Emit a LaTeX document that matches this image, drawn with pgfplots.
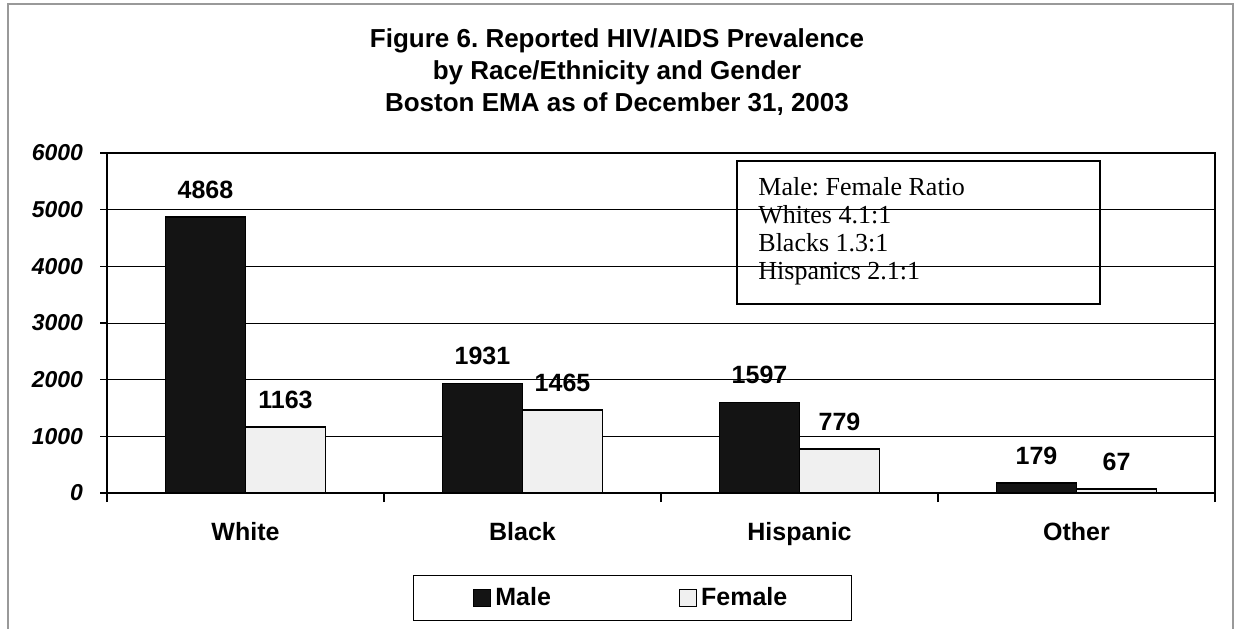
\documentclass[border=0pt]{standalone}
\usepackage{fontspec}
\setmainfont{Liberation Sans}
\newfontfamily\timesfont{Liberation Serif}
\usepackage{pgfplots}
\pgfplotsset{compat=1.18}
\frenchspacing
\begin{document}
\begin{tikzpicture}
\path[use as bounding box] (0,0) rectangle (617.5pt,314pt);
\draw[gray!80, line width=1pt] (4pt,-3pt) -- (4pt,312pt) -- (616.5pt,312pt) -- (616.5pt,-3pt);
\node[align=center, font=\fontsize{13}{16}\selectfont\bfseries] at (308.5pt,278pt)
  {Figure 6. Reported HIV/AIDS Prevalence\\by Race/Ethnicity and Gender\\Boston EMA as of December 31, 2003};
\begin{axis}[
  at={(53.5pt,67.5pt)}, anchor=south west,
  scale only axis, width=554pt, height=170pt,
  xmin=-0.5, xmax=3.5, ymin=0, ymax=6000,
  ybar=0pt, bar width=40pt,
  xtick={0,1,2,3},
  xticklabels={White,Black,Hispanic,Other},
  minor xtick={-0.5,0.5,1.5,2.5,3.5},
  major x tick style={draw=none},
  minor tick length=4.5pt,
  ytick={0,1000,...,6000},
  major tick length=3.5pt,
  tick align=outside,
  xtick pos=bottom, ytick pos=left,
  ymajorgrids, grid style={black, line width=0.5pt},
  axis line style={black, line width=0.8pt},
  tick style={black, line width=0.6pt},
  /pgf/number format/assume math mode=true,
  /pgf/number format/1000 sep={},
  yticklabel style={font=\fontsize{11.5}{13}\selectfont\bfseries\itshape, xshift=-5pt},
  xticklabel style={font=\fontsize{12.5}{14}\selectfont\bfseries, yshift=-7.5pt},
  nodes near coords={\fontsize{12.5}{14}\selectfont\bfseries\pgfmathprintnumber[assume math mode=true,1000 sep={}]{\pgfplotspointmeta}},
  every node near coord/.append style={yshift=5.5pt},
  legend columns=2,
  legend style={at={(0.474,-0.309)}, anchor=center, draw=black, line width=0.6pt,
    inner xsep=30pt, inner ysep=4pt,
    font=\fontsize{12.5}{14}\selectfont\bfseries,
    /tikz/every even column/.append style={column sep=62pt}},
  legend image code/.code={\draw[#1, line width=0.6pt] (0pt,-4.25pt) rectangle (8.5pt,4.25pt);},
]
\addplot[draw=black, fill=black!92, line width=0.8pt] coordinates {(0,4868) (1,1931) (2,1597) (3,179)};
\addplot[draw=black, fill=black!6, line width=0.8pt] coordinates {(0,1163) (1,1465) (2,779) (3,67)};
\legend{Male,Female}
\end{axis}
\draw[black, line width=0.8pt] (368.5pt,162pt) rectangle (550pt,233.5pt);
\node[anchor=base west, inner sep=0pt, font=\timesfont\fontsize{13}{14}\selectfont] at (379pt,216.5pt) {Male: Female Ratio};
\node[anchor=base west, inner sep=0pt, font=\timesfont\fontsize{13}{14}\selectfont] at (379pt,202.5pt) {Whites 4.1:1};
\node[anchor=base west, inner sep=0pt, font=\timesfont\fontsize{13}{14}\selectfont] at (379pt,188.5pt) {Blacks 1.3:1};
\node[anchor=base west, inner sep=0pt, font=\timesfont\fontsize{13}{14}\selectfont] at (379pt,174.5pt) {Hispanics 2.1:1};
\end{tikzpicture}
\end{document}
